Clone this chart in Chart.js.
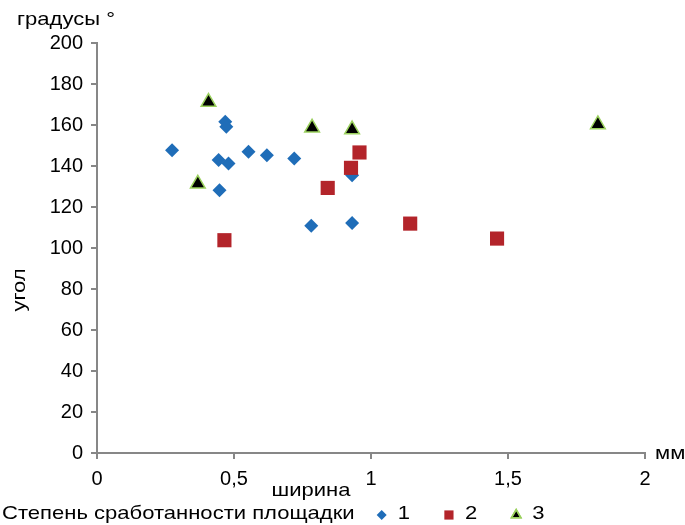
<!DOCTYPE html>
<html lang="ru">
<head>
<meta charset="utf-8">
<title>угол / ширина</title>
<script src="https://cdn.jsdelivr.net/npm/chart.js@4.4.1/dist/chart.umd.min.js"></script>
<style>
  body { margin: 0; background: #fff; }
  #grafico { display: block; }
</style>
</head>
<body>
<canvas id="grafico" width="685" height="525"></canvas>
<script>
// Значения
const xTicks = [0, 0.5, 1, 1.5, 2];
const xTickLabels = ['0', '0,5', '1', '1,5', '2'];
const yTicks = [0, 20, 40, 60, 80, 100, 120, 140, 160, 180, 200];

const legendTitle = 'Степень сработанности площадки';
const seriesNames = ['1', '2', '3'];

// степень 1
const shirina1 = [0.274, 0.468, 0.472, 0.444, 0.480, 0.553, 0.620, 0.720, 0.447, 0.782, 0.931, 0.931];
const ugol1 = [147.7, 161.6, 159.1, 142.9, 141.2, 146.9, 145.3, 143.7, 128.2, 110.8, 112.2, 135.5];
// степень 2
const shirina2 = [0.465, 0.842, 0.927, 0.958, 1.143, 1.460];
const ugol2 = [103.8, 129.3, 139.1, 146.6, 111.9, 104.6];
// степень 3
const shirina3 = [0.407, 0.368, 0.785, 0.931, 1.828];
const ugol3 = [171.2, 131.3, 158.6, 157.8, 160.3];

const fonte = '"Liberation Sans", Arial, sans-serif';
const cinza = '#878787';
const azul = '#1F6DB8';
const vermelho = '#B3242A';
const verde = '#9BD15E';
const esticar = 1.16; // o texto do original é mais largo

function pontos(xs, ys) {
  return xs.map((x, i) => ({ x: x, y: ys[i] }));
}

// texto um pouco esticado na horizontal, devolve a largura
function escreve(ctx, texto, x, y, align) {
  const w = ctx.measureText(texto).width * esticar;
  let x0 = x;
  if (align === 'center') x0 = x - w / 2;
  ctx.save();
  ctx.translate(x0, y);
  ctx.scale(esticar, 1);
  ctx.textAlign = 'left';
  ctx.fillText(texto, 0, 0);
  ctx.restore();
  return w;
}

// Подписи осей и легенда
const textos = {
  id: 'textos',
  afterDraw(chart) {
    const ctx = chart.ctx;
    ctx.save();
    ctx.fillStyle = '#000';
    ctx.font = '19px ' + fonte;
    ctx.textBaseline = 'middle';
    escreve(ctx, 'градусы °', 17, 20);
    escreve(ctx, 'мм', 655, 454);
    escreve(ctx, 'ширина', 311, 491, 'center');
    ctx.save();
    ctx.translate(20, 290);
    ctx.rotate(-Math.PI / 2);
    escreve(ctx, 'угол', 0, 0, 'center');
    ctx.restore();

    // легенда
    const yLeg = 514;
    let cursor = 2 + escreve(ctx, legendTitle, 2, yLeg);
    chart.data.datasets.forEach((ds) => {
      const cx = cursor + 27;
      ctx.fillStyle = ds.backgroundColor;
      ctx.strokeStyle = ds.borderColor;
      ctx.lineWidth = ds.borderWidth || 0;
      Chart.helpers.drawPoint(ctx, { pointStyle: ds.pointStyle, radius: ds.legendRadius, rotation: 0, borderWidth: ds.borderWidth || 0 }, cx, yLeg + 1);
      if (ds.borderWidth) ctx.stroke();
      ctx.fillStyle = '#000';
      const w = escreve(ctx, ds.label, cx + 16, yLeg);
      cursor = cx + 16 + w + 12;
    });
    ctx.restore();
  }
};

const ctx = document.getElementById('grafico').getContext('2d');

new Chart(ctx, {
  type: 'scatter',
  data: {
    datasets: [
      {
        label: seriesNames[0],
        data: pontos(shirina1, ugol1),
        pointStyle: 'rectRot',
        pointRadius: 7,
        legendRadius: 5,
        backgroundColor: azul,
        borderColor: azul,
        borderWidth: 0,
        order: 3
      },
      {
        label: seriesNames[1],
        data: pontos(shirina2, ugol2),
        pointStyle: 'rect',
        pointRadius: 10,
        legendRadius: 6.5,
        backgroundColor: vermelho,
        borderColor: vermelho,
        borderWidth: 0,
        order: 2
      },
      {
        label: seriesNames[2],
        data: pontos(shirina3, ugol3),
        pointStyle: 'triangle',
        pointRadius: 8.5,
        legendRadius: 5.5,
        backgroundColor: '#000',
        borderColor: verde,
        borderWidth: 1.5,
        order: 1
      }
    ]
  },
  options: {
    responsive: false,
    animation: false,
    layout: { padding: { left: 0, right: 40, top: 43, bottom: 0 } },
    plugins: {
      legend: { display: false },
      tooltip: { enabled: false }
    },
    scales: {
      x: {
        type: 'linear',
        min: 0,
        max: 2,
        afterBuildTicks: (scale) => { scale.ticks = xTicks.map((v) => ({ value: v })); },
        afterFit: (scale) => { scale.height = 72; },
        ticks: {
          callback: (value) => xTickLabels[xTicks.indexOf(value)],
          color: '#000',
          padding: 8,
          font: { family: fonte, size: 20 }
        },
        grid: { drawOnChartArea: false, color: cinza, lineWidth: 2, tickLength: 6 },
        border: { color: cinza, width: 2 }
      },
      y: {
        min: 0,
        max: 200,
        afterBuildTicks: (scale) => { scale.ticks = yTicks.map((v) => ({ value: v })); },
        afterFit: (scale) => { scale.width = 97; },
        ticks: {
          color: '#000',
          padding: 8,
          font: { family: fonte, size: 20 }
        },
        grid: { drawOnChartArea: false, color: cinza, lineWidth: 2, tickLength: 6 },
        border: { color: cinza, width: 2 }
      }
    }
  },
  plugins: [textos]
});
</script>
</body>
</html>
